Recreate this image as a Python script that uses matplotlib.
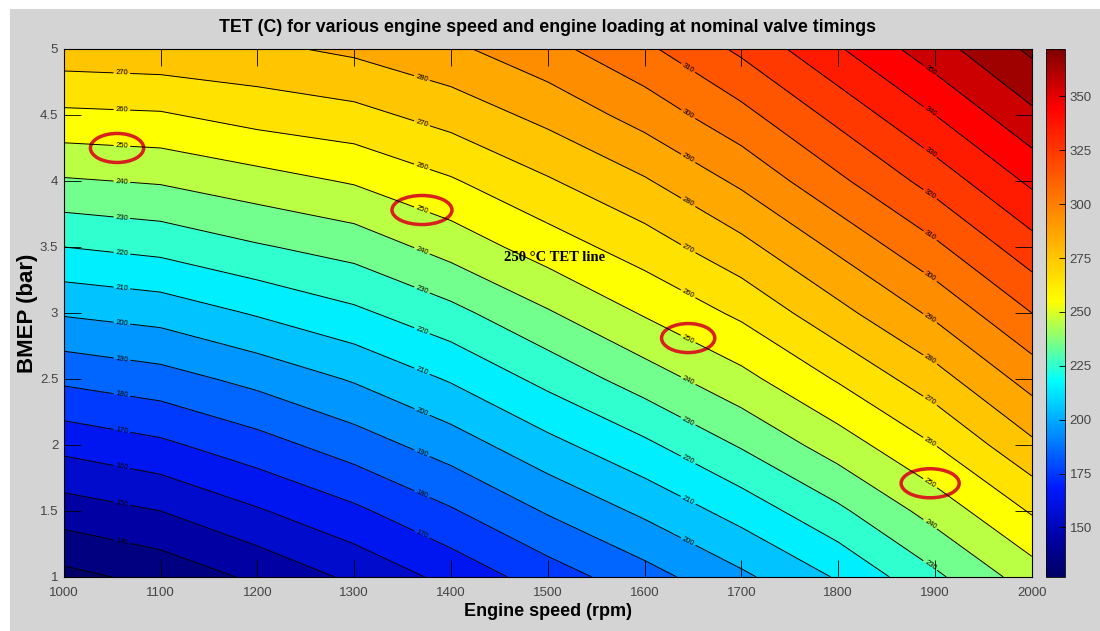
import numpy as np
import matplotlib
matplotlib.use("Agg")
import matplotlib.pyplot as plt
from matplotlib.colors import LinearSegmentedColormap, Normalize
from matplotlib.patches import Ellipse, Rectangle
import matplotlib.cm as cm

# engine speed (rpm) columns and BMEP (bar) rows of the TET map
speed = [1000, 1100, 1200, 1300, 1400, 1500, 1600, 1700, 1800, 1900, 2000]
bmep = [1.0, 1.5, 2.0, 2.5, 3.0, 3.5, 4.0, 4.5, 5.0]

# TET (C), one list per engine speed, from bmep 1 to 5
tet_1000 = [127, 145, 163, 182, 201, 220, 239, 258, 276]
tet_1100 = [133, 150, 168, 186, 204, 223, 241, 259, 277]
tet_1200 = [142, 159, 176, 193, 211, 229, 246, 264, 278]
tet_1300 = [152, 168, 185, 201, 218, 234, 251, 267, 282]
tet_1400 = [163, 179, 195, 211, 227, 244, 259, 274, 288]
tet_1500 = [175, 191, 207, 223, 239, 255, 269, 283, 297]
tet_1600 = [186, 202, 218, 235, 251, 265, 279, 294, 308]
tet_1700 = [198, 214, 231, 247, 262, 277, 292, 307, 322]
tet_1800 = [211, 228, 245, 261, 277, 292, 308, 323, 339]
tet_1900 = [228, 244, 260, 276, 292, 308, 324, 340, 356]
tet_2000 = [245, 261, 278, 294, 310, 326, 342, 358, 372]

# red circles around the 250 C labels (rpm, bar)
circle_pts = [(1055, 4.25), (1370, 3.78), (1645, 2.81), (1895, 1.71)]
circle_w = [55, 62, 55, 60]

# engine speeds where the contour labels sit
label_cols = [1060, 1370, 1645, 1895]

cols = [tet_1000, tet_1100, tet_1200, tet_1300, tet_1400, tet_1500,
        tet_1600, tet_1700, tet_1800, tet_1900, tet_2000]
Z = np.array(cols).T
X, Y = np.meshgrid(speed, bmep)

vmin, vmax = 127, 372
nodes = [(127, (0, 0, 0.4)), (145, (0, 0, 0.65)), (168, (0, 0.1, 1)),
         (218, (0, 1, 1)), (255, (1, 1, 0)), (345, (1, 0, 0)), (372, (0.5, 0, 0))]
cmap = LinearSegmentedColormap.from_list(
    "tet", [((v - vmin) / (vmax - vmin), c) for v, c in nodes])
norm = Normalize(vmin=vmin, vmax=vmax)

plt.rcParams["font.family"] = ["Liberation Sans", "DejaVu Sans"]

fig = plt.figure(figsize=(11, 6.31), dpi=100)
fig.patches.append(Rectangle((10 / 1100, 0), 1, 1 - 9 / 631, transform=fig.transFigure,
                             facecolor="#d4d4d4", edgecolor="none", zorder=-10))

ax = fig.add_axes([0.058, 0.0856, 0.880, 0.8368])
ax.contourf(X, Y, Z, levels=np.arange(120, 381, 10), cmap=cmap, norm=norm)
cs = ax.contour(X, Y, Z, levels=np.arange(130, 371, 10), colors="k", linewidths=0.7)

# label each contour where it crosses the label columns
spots = []
for segs in cs.allsegs:
    for seg in segs:
        if len(seg) < 2:
            continue
        order = np.argsort(seg[:, 0])
        xs, ys = seg[order, 0], seg[order, 1]
        for c in label_cols:
            if xs.min() <= c - 10 and xs.max() >= c + 10:
                spots.append((c, np.interp(c, xs, ys)))
ax.clabel(cs, fmt="%d", fontsize=5.5, inline=True, inline_spacing=2, manual=spots)

for (sx, sy), w in zip(circle_pts, circle_w):
    ax.add_patch(Ellipse((sx, sy), w, 0.22, fill=False, edgecolor="#d8201c", linewidth=2.5))

ax.text(1455, 3.42, "250 \u00b0C TET line", family="Liberation Serif", fontweight="bold",
        fontsize=10.5, va="center")

ax.set_xlim(1000, 2000)
ax.set_ylim(1, 5)
ax.set_xticks(np.arange(1000, 2001, 100))
ax.set_yticks(np.arange(1, 5.01, 0.5))
ax.set_yticklabels(["1", "1.5", "2", "2.5", "3", "3.5", "4", "4.5", "5"])
ax.tick_params(direction="in", length=12, top=True, right=True, labelsize=9.5,
               labelcolor="#444444", width=0.6)
ax.tick_params(axis="x", pad=7)
ax.tick_params(axis="y", pad=4)
ax.set_xlabel("Engine speed (rpm)", fontsize=13, fontweight="bold", labelpad=3)
ax.set_ylabel("BMEP (bar)", fontsize=16, fontweight="bold", labelpad=1)
ax.set_title("TET (C) for various engine speed and engine loading at nominal valve timings",
             fontsize=12.8, fontweight="bold", pad=12)

cax = fig.add_axes([0.951, 0.0856, 0.017, 0.8368])
cb = fig.colorbar(cm.ScalarMappable(norm=norm, cmap=cmap), cax=cax)
cb.set_ticks(np.arange(150, 351, 25))
cax.tick_params(direction="in", length=4, labelsize=9.5, labelcolor="#444444", width=0.6)
cb.outline.set_linewidth(0.6)

fig.savefig("out.png", dpi=100)
